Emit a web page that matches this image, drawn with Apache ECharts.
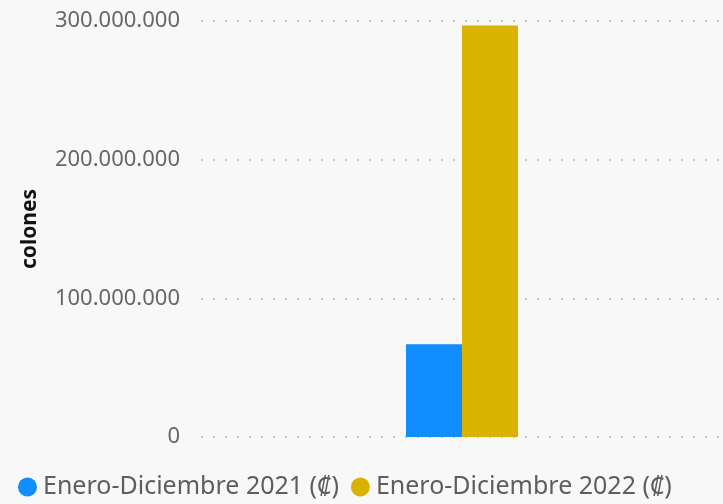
<!DOCTYPE html>
<html><head><meta charset="utf-8">
<script src="https://cdn.jsdelivr.net/npm/echarts@6/dist/echarts.min.js"></script>
<style>html,body{margin:0;padding:0;background:#f8f8f8;}#c{width:723px;height:504px;}</style>
</head><body><div id="c"></div>
<script>
const categories = ['Total'];
const seriesNames = ['Enero-Diciembre 2021 (₡)', 'Enero-Diciembre 2022 (₡)'];
const values2021 = [66900000];
const values2022 = [296800000];
const yTicks = [0, 100000000, 200000000, 300000000];

const chart = echarts.init(document.getElementById('c'));
const fmt = v => String(v).replace(/\B(?=(\d{3})+(?!\d))/g, '.');
chart.setOption({
  backgroundColor: '#f8f8f8',
  animation: false,
  grid: { left: 201, right: 0, top: 21, bottom: 67 },
  legend: {
    top: 468, left: 13, icon: 'circle', itemWidth: 19, itemHeight: 19, itemGap: 12,
    textStyle: { fontFamily: 'Noto Sans', fontSize: 25, lineHeight: 28, color: '#605e5c', padding: [0,0,0,1] },
    data: seriesNames
  },
  xAxis: {
    type: 'category', data: categories,
    axisLine: { show: false }, axisTick: { show: false }, axisLabel: { show: false }
  },
  yAxis: {
    type: 'value', min: 0, max: yTicks[yTicks.length-1], interval: 100000000,
    name: 'colones', nameLocation: 'middle', nameGap: 160, nameRotate: 90,
    nameTextStyle: { fontFamily: 'Noto Sans', fontSize: 21, fontWeight: 'bold', color: '#111' },
    axisLabel: { fontFamily: 'Noto Sans', fontSize: 22, color: '#666', margin: 21, formatter: fmt },
    splitLine: { lineStyle: { color: '#c8c8c8', width: 2, type: [2, 10] } },
    axisLine: { show: false }, axisTick: { show: false }
  },
  series: [
    { name: seriesNames[0], type: 'bar', data: values2021, barWidth: 56, barGap: '0%', itemStyle: { color: '#118dff' } },
    { name: seriesNames[1], type: 'bar', data: values2022, barWidth: 56, barGap: '0%', itemStyle: { color: '#d9b300' } }
  ]
});
</script></body></html>
